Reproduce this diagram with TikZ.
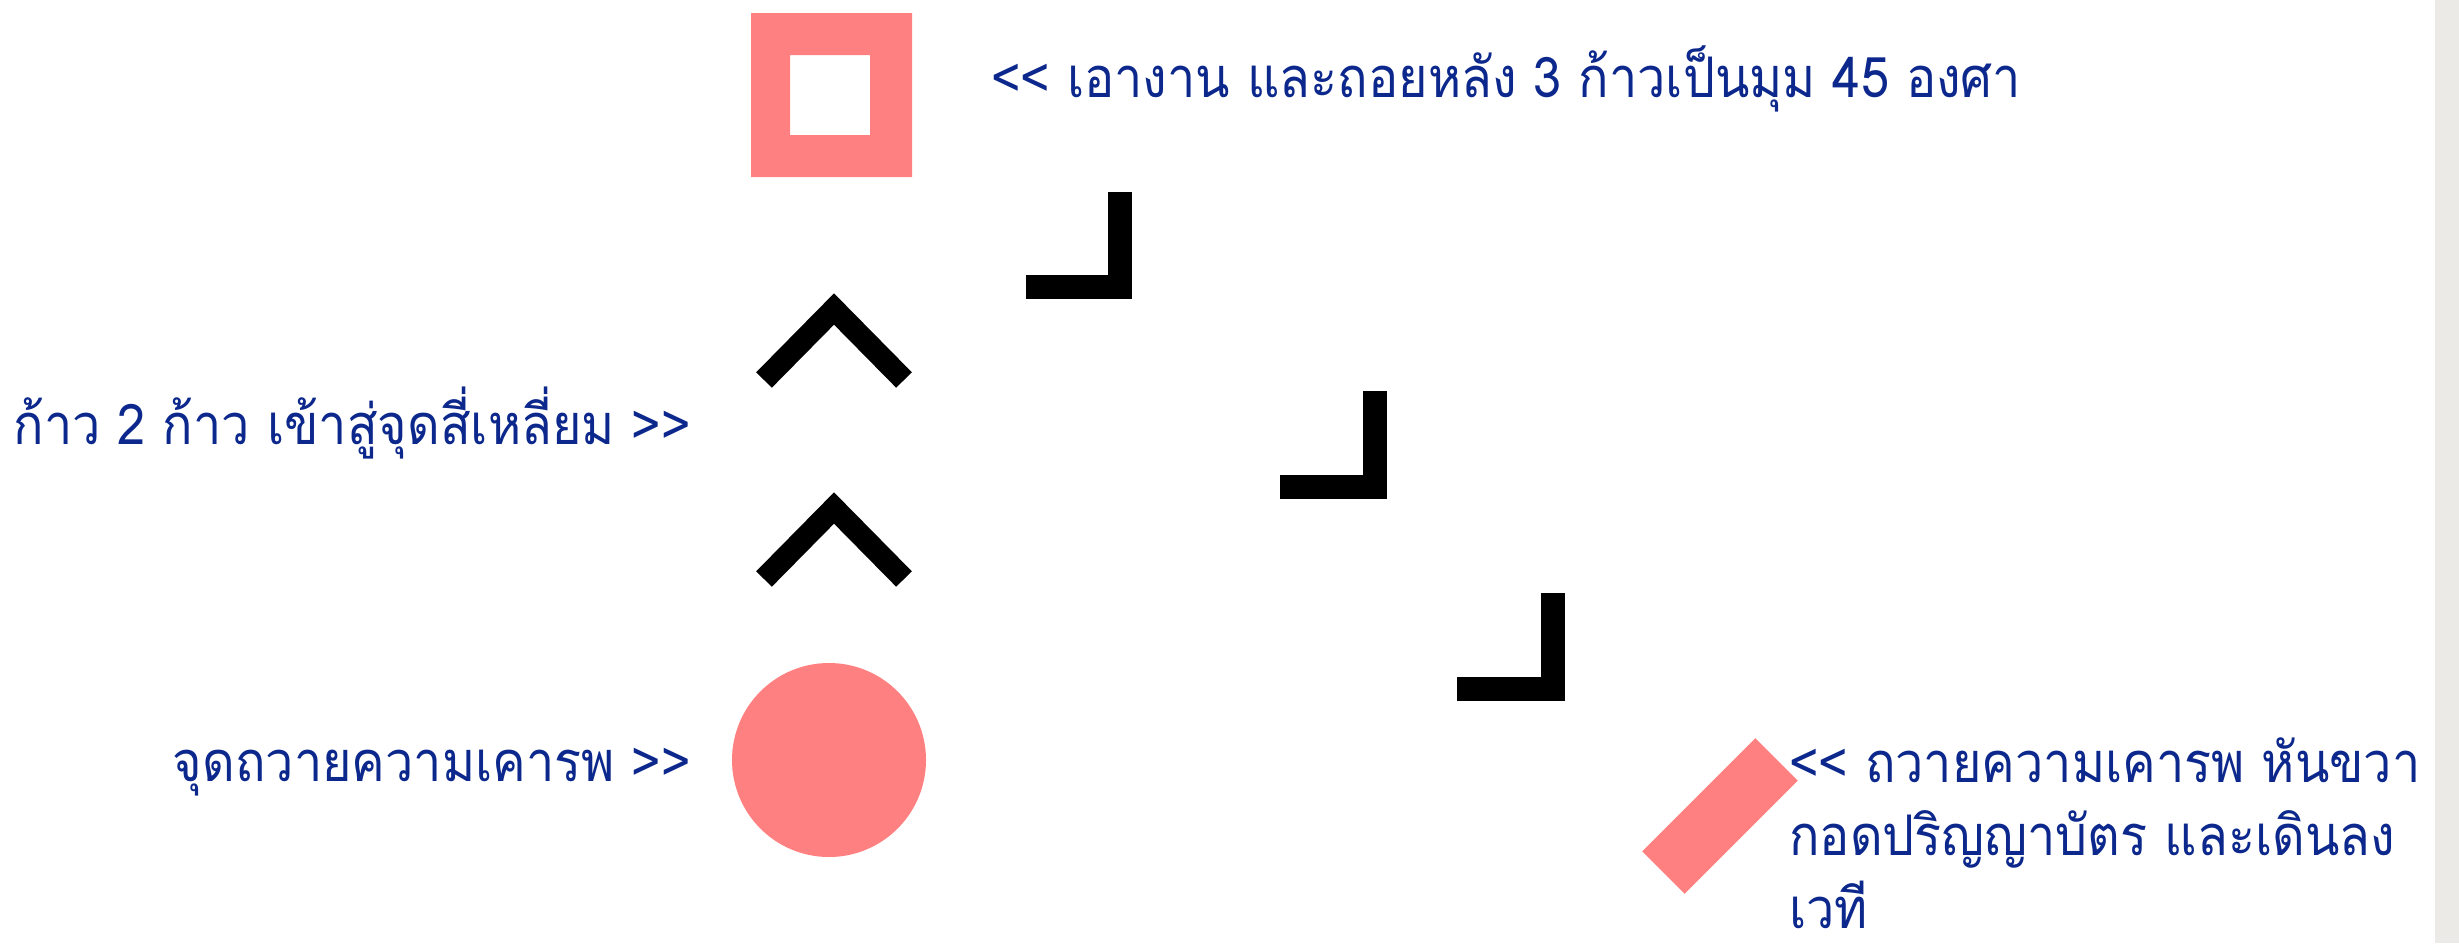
\documentclass[tikz,border=0pt]{standalone}
\usepackage{fontspec}
\usetikzlibrary{calc}
\newfontfamily\thaifont[Script=Thai,FakeStretch=0.9]{Loma}
\definecolor{labelblue}{RGB}{12,40,140}
\definecolor{pinkmark}{RGB}{255,128,128}
\definecolor{marble}{RGB}{236,234,231}

\begin{document}
\begin{tikzpicture}[x=1pt,y=-1pt,
  lbl/.style={text=labelblue,font=\thaifont\fontsize{56}{73}\selectfont,inner sep=0pt},
  stepmark/.style={line width=24pt,line join=miter},
  chev/.style={line width=22pt,line join=miter}]
  \useasboundingbox (0,0) rectangle (2459,943);
  \fill[white] (0,0) rectangle (2459,943);
  \fill[marble] (2435,0) rectangle (2459,943);

  \coordinate (sq) at (831,95);
  \coordinate (ci) at (829,760);
  \coordinate (rc) at (1720,816);

  \fill[pinkmark,even odd rule] (751,13) rectangle (912,177) (790,55) rectangle (870,135);
  \fill[pinkmark] (ci) circle (97);
  \fill[pinkmark,rotate around={45:(rc)}] ($(rc)+(-80,-30)$) rectangle ($(rc)+(80,30)$);

  \draw[chev] (764,380) -- (834,309) -- (904,380);
  \draw[chev] (764,579) -- (834,508) -- (904,579);

  \draw[stepmark] (1026,287) -- (1120,287) -- (1120,192);
  \draw[stepmark] (1280,487) -- (1375,487) -- (1375,391);
  \draw[stepmark] (1457,689) -- (1553,689) -- (1553,593);

  \node[lbl,anchor=base west] (take) at (991,97) {<< เอางาน และถอยหลัง 3 ก้าวเป็นมุม 45 องศา};
  \node[lbl,anchor=base east] (walk) at (691,444) {ก้าว 2 ก้าว เข้าสู่จุดสี่เหลี่ยม >>};
  \node[lbl,anchor=base east] (bow) at (691,781) {จุดถวายความเคารพ >>};
  \node[lbl,anchor=north west,align=left] (turn) at (1789,738)
    {<< ถวายความเคารพ หันขวา\\กอดปริญญาบัตร และเดินลง\\เวที};
\end{tikzpicture}
\end{document}
